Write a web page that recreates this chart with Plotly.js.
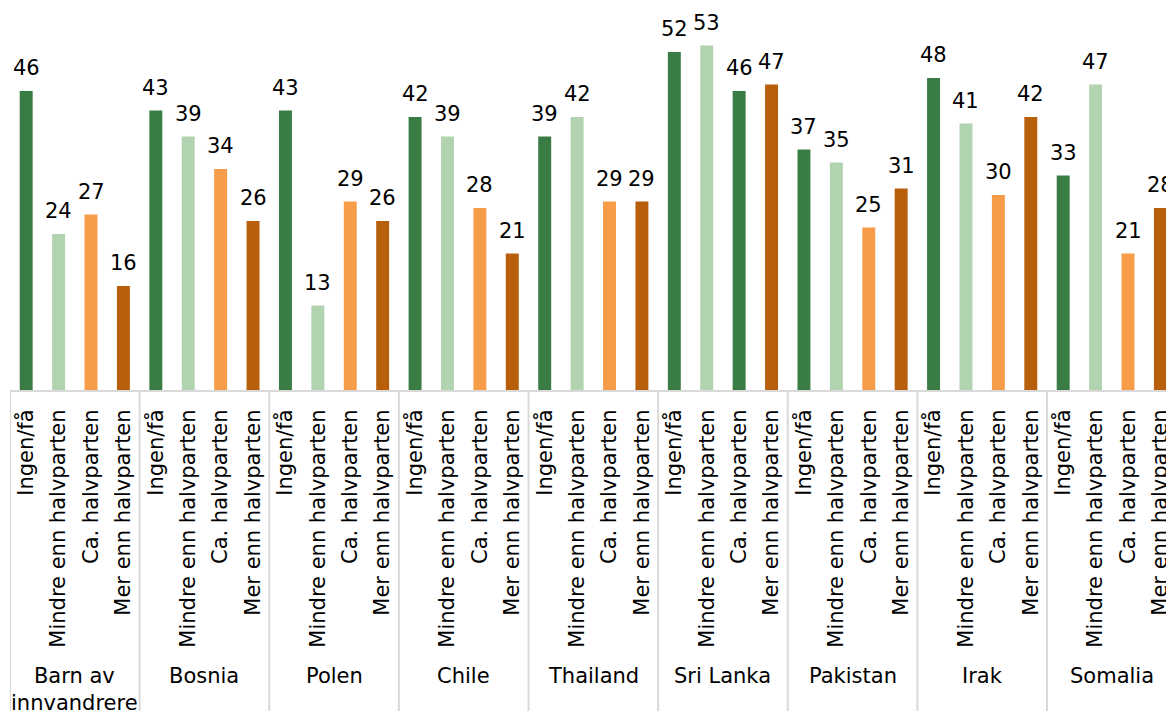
<!DOCTYPE html>
<html>
<head>
<meta charset="utf-8">
<script src="https://cdn.plot.ly/plotly-3.0.1.min.js"></script>
<style>html,body{margin:0;padding:0;background:#fff;}#chart{width:1166px;height:711px;}</style>
</head>
<body>
<div id="chart"></div>
<script>
const groups = ["Barn av<br>innvandrere", "Bosnia", "Polen", "Chile", "Thailand", "Sri Lanka", "Pakistan", "Irak", "Somalia"];
const categories = ["Ingen/få", "Mindre enn halvparten", "Ca. halvparten", "Mer enn halvparten"];
const ingenFa      = [46, 43, 43, 42, 39, 52, 37, 48, 33];
const mindreEnn    = [24, 39, 13, 39, 42, 53, 35, 41, 47];
const caHalvparten = [27, 34, 29, 28, 29, 46, 25, 30, 21];
const merEnn       = [16, 26, 26, 21, 29, 47, 31, 42, 28];
const series = [ingenFa, mindreEnn, caHalvparten, merEnn];
const colors = ["#3a7d44", "#b2d3b0", "#f79d4a", "#b85f0c"];
// the reference draws the Sri Lanka "Ca. halvparten" bar in dark green
const colorOverrides = {"2,5": "#3a7d44"};

const FONT = "DejaVu Sans, Verdana, sans-serif";
const nCat = categories.length;

const traces = [];
const annotations = [];
const tickvals = [];
const ticktext = [];
series.forEach((vals, j) => {
  const xs = vals.map((v, g) => g * nCat + j);
  const cols = vals.map((v, g) => colorOverrides[j + "," + g] || colors[j]);
  traces.push({
    type: "bar",
    name: categories[j],
    x: xs,
    y: vals,
    width: 0.4,
    marker: {color: cols},
    hoverinfo: "y"
  });
  vals.forEach((v, g) => {
    annotations.push({
      x: g * nCat + j, y: v, xref: "x", yref: "y",
      text: String(v), showarrow: false,
      yanchor: "bottom", yshift: 9,
      font: {family: FONT, size: 21, color: "#000"}
    });
  });
});
groups.forEach((g, gi) => {
  categories.forEach((c, j) => { tickvals.push(gi * nCat + j); ticktext.push(c); });
  annotations.push({
    x: gi * nCat + (nCat - 1) / 2, y: -0.697, xref: "x", yref: "paper",
    text: g, showarrow: false, yanchor: "top",
    font: {family: FONT, size: 21, color: "#000"}
  });
});

const shapes = [];
for (let gi = 0; gi < groups.length; gi++) {
  shapes.push({
    type: "line", xref: "x", yref: "paper",
    x0: gi * nCat - 0.5, x1: gi * nCat - 0.5, y0: 0, y1: -0.83,
    line: {color: "#d9d9d9", width: 2}
  });
}

const layout = {
  width: 1166, height: 711,
  margin: {l: 10, r: 0, t: 0, b: 321},
  paper_bgcolor: "#fff", plot_bgcolor: "#fff",
  showlegend: false,
  barmode: "overlay",
  xaxis: {
    range: [-0.5, -0.5 + 1156 / 32.406],
    tickmode: "array", tickvals: tickvals, ticktext: ticktext,
    tickangle: -90, ticks: "", ticklabelstandoff: 9,
    ticklabeloverflow: "allow",
    tickfont: {family: FONT, size: 21, color: "#000"},
    showgrid: false, zeroline: false,
    showline: true, linecolor: "#d9d9d9", linewidth: 2,
    fixedrange: true
  },
  yaxis: {
    range: [0, 60], visible: false, showgrid: false, zeroline: false, fixedrange: true
  },
  annotations: annotations,
  shapes: shapes
};

Plotly.newPlot("chart", traces, layout, {displayModeBar: false, staticPlot: true});
</script>
</body>
</html>
